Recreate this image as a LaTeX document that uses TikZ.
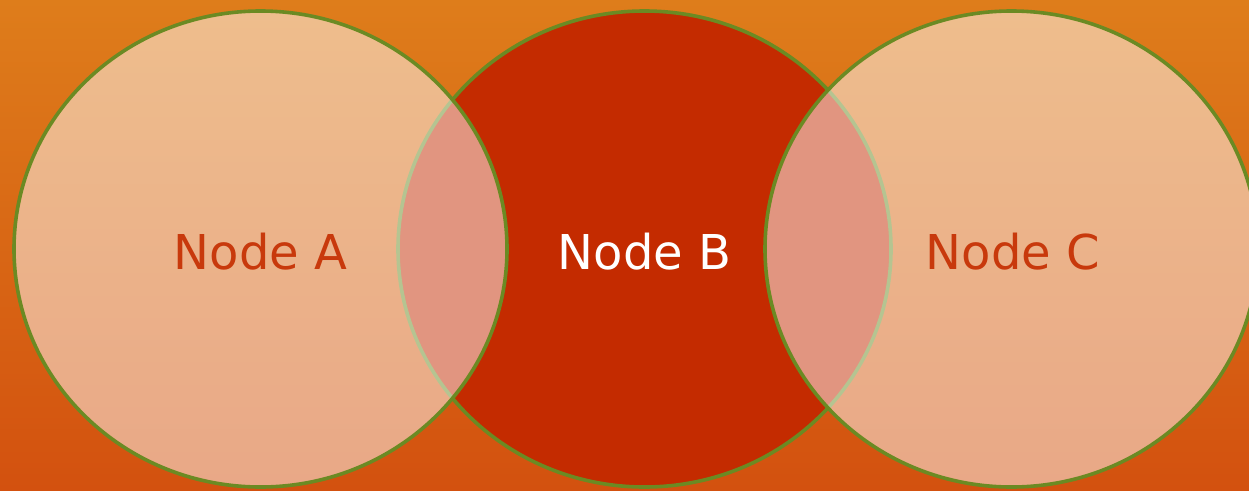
\documentclass[tikz,border=0pt]{standalone}
\usepackage{fontspec}
\setsansfont{DejaVu Sans}
\usepackage{tikz}
\definecolor{bgtop}{HTML}{DE7D1B}
\definecolor{bgbot}{HTML}{D3510F}
\definecolor{ringgreen}{HTML}{6B8A23}
\definecolor{nodered}{HTML}{C42B00}
\definecolor{labelred}{HTML}{C8390C}

\begin{document}
\begin{tikzpicture}[line cap=round,line join=round,x=1pt,y=-1pt,
  ring/.style={draw=ringgreen,line width=3.6pt},
  pale/.style={ring,fill=white,fill opacity=0.5,draw opacity=1},
  strong/.style={ring,fill=nodered},
  lbl/.style={font=\sffamily\fontsize{48}{58}\selectfont,inner sep=0pt}]
\fill [top color=bgtop,bottom color=bgbot] (0,0) rectangle (1249,490);
\useasboundingbox (0,0) rectangle (1249,490);
% middle ring first, the outer two lie over it
\draw [strong] (644.5,249) ellipse [x radius=246.5pt, y radius=238pt];
\draw [pale] (260.5,249) ellipse [x radius=246.5pt, y radius=238pt];
\draw [pale] (1011.5,249) ellipse [x radius=246.5pt, y radius=238pt];
\node [lbl,text=labelred] (nodeA) at (260.5,252) {Node A};
\node [lbl,text=white] (nodeB) at (644.5,252) {Node B};
\node [lbl,text=labelred] (nodeC) at (1013,252) {Node C};
\end{tikzpicture}
\end{document}
